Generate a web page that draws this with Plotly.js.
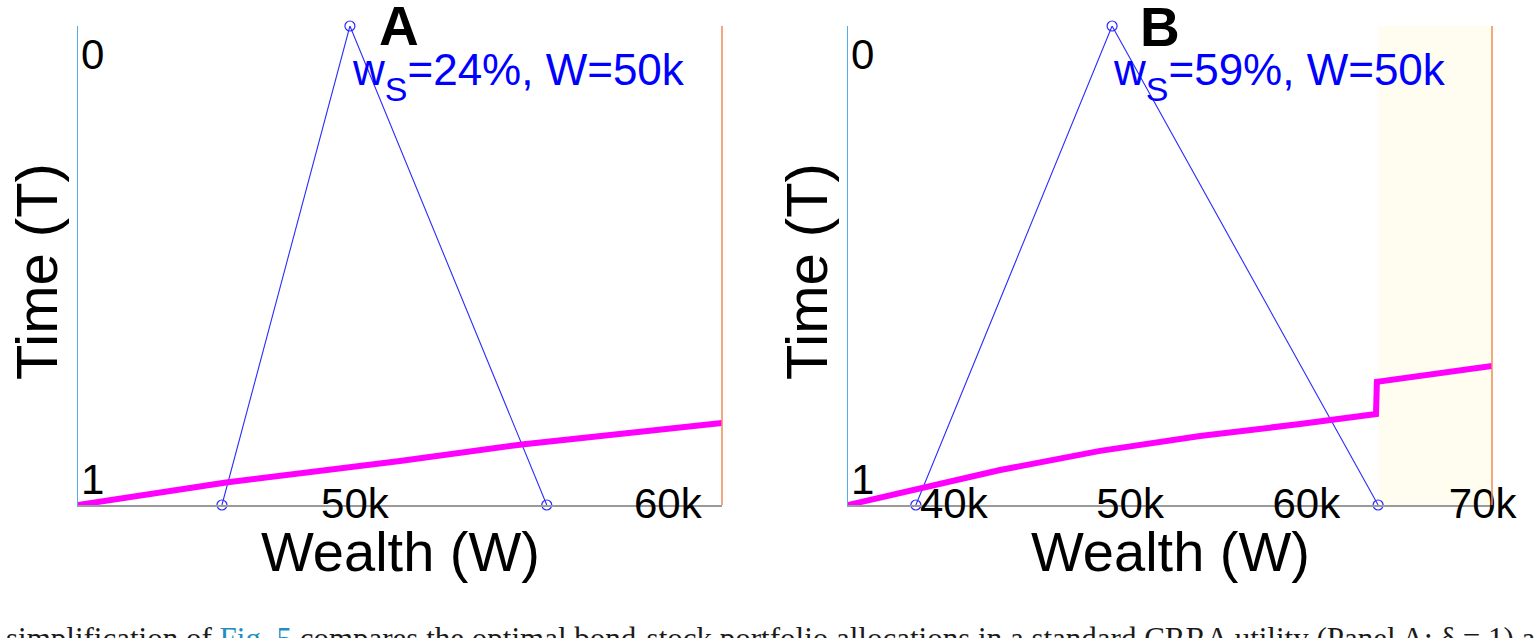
<!DOCTYPE html>
<html><head><meta charset="utf-8">
<script src="https://cdn.plot.ly/plotly-3.0.1.min.js"></script>
<style>html,body{margin:0;padding:0;background:#fff;overflow:hidden}#chart{width:1534px;height:638px}</style>
</head><body><div id="chart"></div>
<script>
// ---- Data (wealth in thousands, time as fraction of horizon) ----
const panelLabels = ['A', 'B'];
const allocPrefix = 'w';
const allocSub = 'S';
const allocRest = ['=24%, W=50k', '=59%, W=50k'];
const xTickValsA = [50, 60];
const xTickTextA = ['50k', '60k'];
const xTickValsB = [40, 50, 60, 70];
const xTickTextB = ['40k', '50k', '60k', '70k'];
const yTickText = ['0', '1'];
const xRangeA = [41.15, 61.73];
const xRangeB = [34.0, 70.53];

// wealth-distribution triangle (base-left, peak, base-right)
const triA_W = [45.75, 49.84, 56.13];
const triA_T = [1, 0, 1];
const triB_W = [37.85, 48.98, 64.07];
const triB_T = [1, 0, 1];

// optimal boundary (magenta)
const curveA_W = [41.15, 45.88, 51.44, 55.40, 61.73];
const curveA_T = [1.0, 0.953, 0.908, 0.873, 0.829];
const curveB_W = [34.0, 38.09, 42.63, 48.30, 53.97, 59.64, 63.95, 64.0, 70.53];
const curveB_T = [1.0, 0.9645, 0.927, 0.887, 0.856, 0.831, 0.810, 0.743, 0.710];

// shaded region in panel B
const shadeB = [64.07, 70.53];

const captionText = 'simplification of <span style="color:#1f8fbf">Fig. 5</span> compares the optimal bond-stock portfolio allocations in a standard CRRA utility (Panel A: δ = 1) age';

// ---- Styles ----
const SANS = 'Liberation Sans, Arial, Helvetica, sans-serif';
const BLUE = '#2b2bff';
const MAGENTA = '#ff00ff';
const W = 1534, H = 638;
const px = v => v / W;
const py = v => (H - v) / H;

const traces = [
  {x: triA_W, y: triA_T, xaxis: 'x', yaxis: 'y', mode: 'lines+markers', cliponaxis: false,
   line: {color: BLUE, width: 1.1}, marker: {symbol: 'circle-open', size: 10, color: BLUE, line: {width: 1.2}}},
  {x: curveA_W, y: curveA_T, xaxis: 'x', yaxis: 'y', mode: 'lines', line: {color: MAGENTA, width: 6}},
  {x: triB_W, y: triB_T, xaxis: 'x2', yaxis: 'y2', mode: 'lines+markers', cliponaxis: false,
   line: {color: BLUE, width: 1.1}, marker: {symbol: 'circle-open', size: 10, color: BLUE, line: {width: 1.2}}},
  {x: curveB_W, y: curveB_T, xaxis: 'x2', yaxis: 'y2', mode: 'lines', line: {color: MAGENTA, width: 6}}
];

function xAxis(domain, range, vals, text, anchor) {
  return {domain: domain, range: range, anchor: anchor, showgrid: false, zeroline: false,
    showline: true, linecolor: '#9a9a9a', linewidth: 1.5, ticks: '',
    tickvals: vals, ticktext: text, ticklabelstandoff: -39,
    tickfont: {family: SANS, size: 42, color: '#000'}};
}
function yAxis(anchor) {
  return {domain: [py(505), py(26)], range: [1, 0], anchor: anchor, showgrid: false, zeroline: false,
    showline: true, linecolor: '#55aaea', linewidth: 1.5, ticks: '', showticklabels: false};
}

const annotations = [];
const panels = [
  {xa: 'x', ya: 'y', left: 78, right: 722},
  {xa: 'x2', ya: 'y2', left: 848, right: 1492}
];
panels.forEach((p, i) => {
  const cx = (p.left + p.right) / 2;
  // y tick labels
  annotations.push({xref: p.xa + ' domain', yref: p.ya, x: 0, y: 0, xanchor: 'left', yanchor: 'top',
    xshift: 1, yshift: -3, text: yTickText[0], showarrow: false, font: {family: SANS, size: 42, color: '#000'}});
  annotations.push({xref: p.xa + ' domain', yref: p.ya, x: 0, y: 1, xanchor: 'left', yanchor: 'bottom',
    xshift: 1, yshift: 0, text: yTickText[1], showarrow: false, font: {family: SANS, size: 42, color: '#000'}});
  // axis titles
  annotations.push({xref: 'paper', yref: 'paper', x: px(p.left - 42), y: py(272), xanchor: 'center', yanchor: 'middle',
    text: 'Time (T)', textangle: -90, showarrow: false, font: {family: SANS, size: 58, color: '#000'}});
  annotations.push({xref: 'paper', yref: 'paper', x: px(cx), y: py(551), xanchor: 'center', yanchor: 'middle',
    text: 'Wealth (W)', showarrow: false, font: {family: SANS, size: 56, color: '#000'}});
  // allocation label
  annotations.push({xref: 'paper', yref: 'paper', x: px(i === 0 ? 350 : 1111), y: py(43), xanchor: 'left', yanchor: 'top',
    text: allocPrefix + '<sub><sub><span style="font-size:34px">' + allocSub + '</span></sub></sub>' + allocRest[i],
    showarrow: false, font: {family: SANS, size: 44, color: '#0000ff'}});
});
// panel letters
annotations.push({xref: 'paper', yref: 'paper', x: px(399), y: py(26), xanchor: 'center', yanchor: 'middle',
  text: '<b>' + panelLabels[0] + '</b>', showarrow: false, font: {family: SANS, size: 55, color: '#000'}});
annotations.push({xref: 'paper', yref: 'paper', x: px(1160), y: py(27), xanchor: 'center', yanchor: 'middle',
  text: '<b>' + panelLabels[1] + '</b>', showarrow: false, font: {family: SANS, size: 55, color: '#000'}});
// caption (clipped at the bottom edge)
annotations.push({xref: 'paper', yref: 'paper', x: px(4), y: py(619), xanchor: 'left', yanchor: 'top',
  text: captionText, showarrow: false, font: {family: 'Liberation Serif, Times New Roman, serif', size: 31, color: '#1a1a1a'}});

const shapes = [
  {type: 'rect', xref: 'x2', yref: 'y2 domain', x0: shadeB[0], x1: shadeB[1], y0: 0, y1: 1,
   fillcolor: '#fffdf0', line: {width: 0}, layer: 'below'},
  {type: 'line', xref: 'x domain', yref: 'y domain', x0: 1, x1: 1, y0: 0, y1: 1, line: {color: '#f08a55', width: 1.5}},
  {type: 'line', xref: 'x2 domain', yref: 'y2 domain', x0: 1, x1: 1, y0: 0, y1: 1, line: {color: '#f08a55', width: 1.5}}
];

const layout = {
  width: W, height: H, margin: {l: 0, r: 0, t: 0, b: 0},
  paper_bgcolor: '#fff', plot_bgcolor: 'rgba(0,0,0,0)', showlegend: false,
  xaxis: xAxis([px(78), px(722)], xRangeA, xTickValsA, xTickTextA, 'y'),
  yaxis: yAxis('x'),
  xaxis2: xAxis([px(848), px(1492)], xRangeB, xTickValsB, xTickTextB, 'y2'),
  yaxis2: yAxis('x2'),
  annotations: annotations, shapes: shapes
};

Plotly.newPlot('chart', traces, layout, {staticPlot: true, displayModeBar: false});
</script>
</body></html>
